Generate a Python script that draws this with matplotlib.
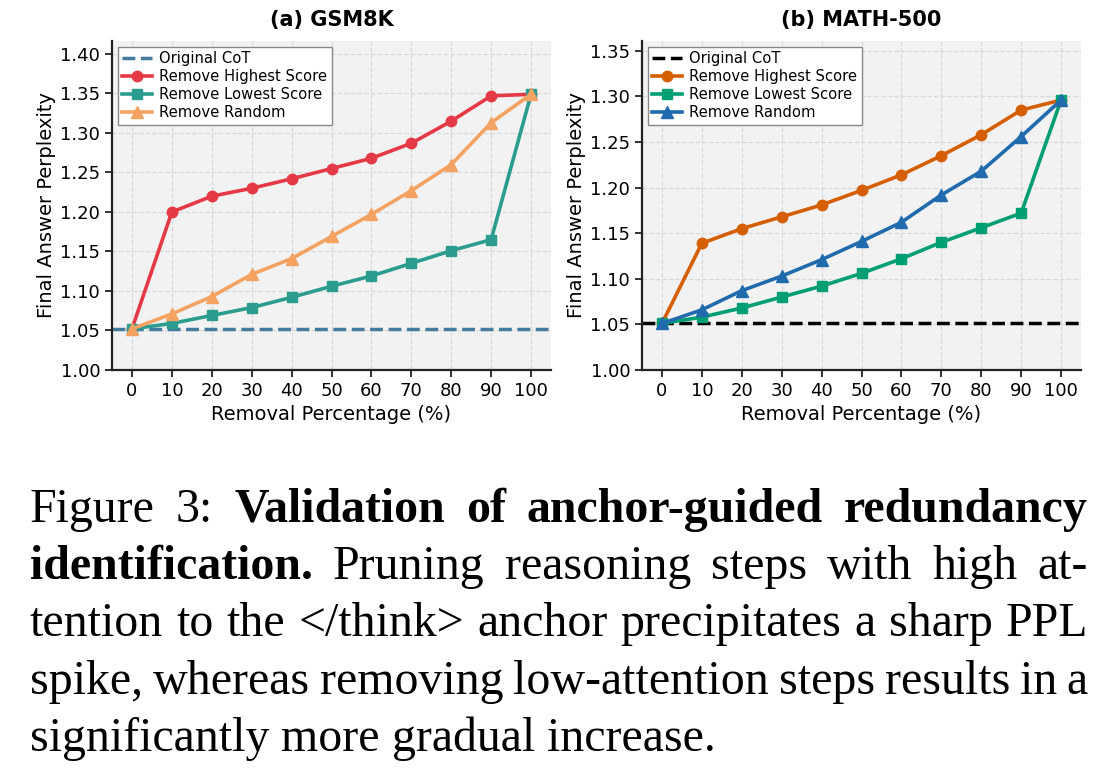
import matplotlib
matplotlib.use("Agg")
import matplotlib.pyplot as plt
import numpy as np

# ---------------- data ----------------
removal_pct = [0, 10, 20, 30, 40, 50, 60, 70, 80, 90, 100]

gsm_original = 1.052
gsm_highest = [1.052, 1.200, 1.220, 1.230, 1.242, 1.255, 1.268, 1.287, 1.315, 1.347, 1.349]
gsm_lowest = [1.052, 1.059, 1.069, 1.079, 1.092, 1.106, 1.119, 1.135, 1.151, 1.165, 1.349]
gsm_random = [1.052, 1.071, 1.093, 1.121, 1.141, 1.169, 1.197, 1.227, 1.260, 1.313, 1.349]

math_original = 1.051
math_highest = [1.051, 1.139, 1.155, 1.168, 1.181, 1.197, 1.214, 1.235, 1.258, 1.285, 1.296]
math_lowest = [1.051, 1.058, 1.068, 1.080, 1.092, 1.106, 1.122, 1.140, 1.156, 1.172, 1.296]
math_random = [1.051, 1.066, 1.087, 1.103, 1.121, 1.141, 1.162, 1.192, 1.218, 1.256, 1.296]

series_labels = ["Original CoT", "Remove Highest Score", "Remove Lowest Score", "Remove Random"]
panel_titles = ["(a) GSM8K", "(b) MATH-500"]
xlabel = "Removal Percentage (%)"
ylabel = "Final Answer Perplexity"

caption_lines = [
    [("Figure", False), ("3:", False), ("Validation", True), ("of", True),
     ("anchor-guided", True), ("redundancy", True)],
    [("identification.", True), ("Pruning", False), ("reasoning", False), ("steps", False),
     ("with", False), ("high", False), ("at-", False)],
    [("tention", False), ("to", False), ("the", False), ("</think>", False), ("anchor", False),
     ("precipitates", False), ("a", False), ("sharp", False), ("PPL", False)],
    [("spike,", False), ("whereas", False), ("removing", False), ("low-attention", False),
     ("steps", False), ("results", False), ("in", False), ("a", False)],
    [("significantly", False), ("more", False), ("gradual", False), ("increase.", False)],
]

# ---------------- figure ----------------
W, H = 1115, 777
fig = plt.figure(figsize=(W / 100, H / 100), dpi=100)
fig.patch.set_facecolor("white")


def px_axes(x0, x1, y0, y1):
    return fig.add_axes([x0 / W, 1 - y1 / H, (x1 - x0) / W, (y1 - y0) / H])


panels = [
    dict(ax=px_axes(112, 551, 41, 370), title=panel_titles[0], orig=gsm_original,
         high=gsm_highest, low=gsm_lowest, rnd=gsm_random,
         colors=["#457B9D", "#E63946", "#2A9D8F", "#F4A261"],
         yticks=np.arange(1.00, 1.401, 0.05)),
    dict(ax=px_axes(642, 1081, 41, 370), title=panel_titles[1], orig=math_original,
         high=math_highest, low=math_lowest, rnd=math_random,
         colors=["#000000", "#D55E00", "#009E73", "#1F6BAD"],
         yticks=np.arange(1.00, 1.351, 0.05)),
]

for p in panels:
    ax = p["ax"]
    c = p["colors"]
    ax.set_facecolor("#F2F2F2")
    ax.axhline(p["orig"], color=c[0], linestyle="--", linewidth=2.5, label=series_labels[0],
               zorder=2)
    ax.plot(removal_pct, p["high"], color=c[1], marker="o", markersize=7.5, linewidth=2.6,
            label=series_labels[1], zorder=3)
    ax.plot(removal_pct, p["low"], color=c[2], marker="s", markersize=7.5, linewidth=2.6,
            label=series_labels[2], zorder=3)
    ax.plot(removal_pct, p["rnd"], color=c[3], marker="^", markersize=8, linewidth=2.6,
            label=series_labels[3], zorder=3)
    ymax = max(max(p["high"]), max(p["low"]), max(p["rnd"])) * 1.05
    ax.set_ylim(1.0, ymax)
    ax.set_xlim(-5, 105)
    ax.set_xticks(removal_pct)
    ax.set_yticks(p["yticks"])
    ax.set_yticklabels([f"{v:.2f}" for v in p["yticks"]])
    ax.grid(True, linestyle="--", color="#DADADA", linewidth=0.9)
    ax.set_axisbelow(True)
    for s in ["top", "right"]:
        ax.spines[s].set_visible(False)
    for s in ["left", "bottom"]:
        ax.spines[s].set_linewidth(1.6)
        ax.spines[s].set_color("#222222")
    ax.tick_params(axis="both", labelsize=13, width=1.3, length=5, color="#222222")
    ax.set_xlabel(xlabel, fontsize=14, labelpad=4)
    ax.set_ylabel(ylabel, fontsize=14, labelpad=3)
    ax.set_title(p["title"], fontsize=15, fontweight="bold", pad=11)
    leg = ax.legend(loc="upper left", fontsize=10.6, frameon=True, fancybox=False,
                    edgecolor="#888888", framealpha=1.0, borderpad=0.3, labelspacing=0.2,
                    handlelength=2.0, handletextpad=0.5, borderaxespad=0.4)
    leg.get_frame().set_linewidth(1.0)

# ---------------- caption (justified, mixed weights) ----------------
renderer = fig.canvas.get_renderer()
cap_x0, cap_x1 = 30, 1088
baselines = [522, 579, 636, 694, 751]
cap_size = 34.5
for li, (line, base) in enumerate(zip(caption_lines, baselines)):
    texts = []
    for word, bold in line:
        t = fig.text(0, 1 - base / H, word, fontsize=cap_size, family="Liberation Serif",
                     fontweight="bold" if bold else "normal", va="baseline", ha="left")
        texts.append(t)
    widths = [t.get_window_extent(renderer).width for t in texts]
    if li < len(caption_lines) - 1:
        gap = (cap_x1 - cap_x0 - sum(widths)) / (len(texts) - 1)
    else:
        sp = fig.text(0, 0, "a a", fontsize=cap_size, family="Liberation Serif")
        sp2 = fig.text(0, 0, "aa", fontsize=cap_size, family="Liberation Serif")
        gap = sp.get_window_extent(renderer).width - sp2.get_window_extent(renderer).width
        sp.remove()
        sp2.remove()
    x = cap_x0
    for t, w in zip(texts, widths):
        t.set_x(x / W)
        x += w + gap

fig.savefig("out.png", dpi=100, facecolor="white")
